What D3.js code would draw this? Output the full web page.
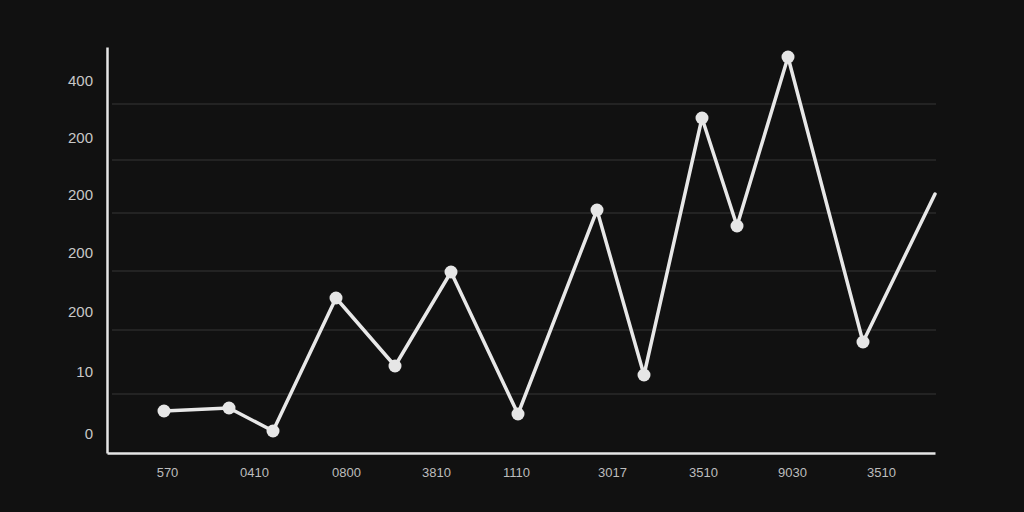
<!DOCTYPE html>
<html><head><meta charset="utf-8">
<script src="https://cdn.jsdelivr.net/npm/d3@7"></script>
<style>html,body{margin:0;padding:0;background:#111111;}svg{display:block;}</style>
</head><body>
<svg id="c" width="1024" height="512"></svg>
<script>
// Data (x positions in data units, values in data units)
const xValues = [57,122,166,229,288,344,411,490,537,595,630,681,756,828];
const yValues = [42,45,22,155,87,181,39,243,78,335,227,396,111,259];
const markerCount = 13; // last point has no marker
const xTickValues = [60,147,239,329,409,505,596,685,774];
const xTickLabels = ["570","0410","0800","3810","1110","3017","3510","9030","3510"];
const yTickValues = [372,315,258,200,141,81,19];
const yTickLabels = ["400","200","200","200","200","10","0"];
const gridValues = [349,293,240,182,123,59];

const svg = d3.select("#c");
svg.append("rect").attr("width",1024).attr("height",512).attr("fill","#111111");

const x = d3.scaleLinear().domain([0,828]).range([107,935]);
const y = d3.scaleLinear().domain([0,406]).range([453,47]);

// gridlines
svg.append("g").selectAll("line").data(gridValues).join("line")
  .attr("x1",112).attr("x2",936)
  .attr("y1",d=>y(d)).attr("y2",d=>y(d))
  .attr("stroke","#2a2a2a").attr("stroke-width",1.3);

// axes
const xAxis = d3.axisBottom(x).tickValues(xTickValues)
  .tickFormat((d,i)=>xTickLabels[i]).tickSize(0).tickPadding(15);
const gx = svg.append("g").attr("transform",`translate(0,${y(0)})`).call(xAxis);
gx.select(".domain").attr("stroke","#e6e6e6").attr("stroke-width",2.5);
gx.selectAll("text").attr("fill","#bdbdbd").attr("font-size",13)
  .attr("font-family","Liberation Sans, Arial, sans-serif");

const yAxis = d3.axisLeft(y).tickValues(yTickValues)
  .tickFormat((d,i)=>yTickLabels[i]).tickSize(0).tickPadding(14);
const gy = svg.append("g").attr("transform",`translate(${x(0)},0)`).call(yAxis);
gy.select(".domain").attr("stroke","#e6e6e6").attr("stroke-width",2.5);
gy.selectAll("text").attr("fill","#c8c8c8").attr("font-size",15)
  .attr("font-family","Liberation Sans, Arial, sans-serif");

const pts = xValues.map((v,i)=>[v,yValues[i]]);
const line = d3.line().x(d=>x(d[0])).y(d=>y(d[1]));
svg.append("path").datum(pts).attr("d",line)
  .attr("fill","none").attr("stroke","#e8e8e8").attr("stroke-width",3.5)
  .attr("stroke-linejoin","round").attr("stroke-linecap","round");

svg.append("g").selectAll("circle").data(pts.slice(0,markerCount)).join("circle")
  .attr("cx",d=>x(d[0])).attr("cy",d=>y(d[1])).attr("r",6.5)
  .attr("fill","#e6e6e6");
</script>
</body></html>
